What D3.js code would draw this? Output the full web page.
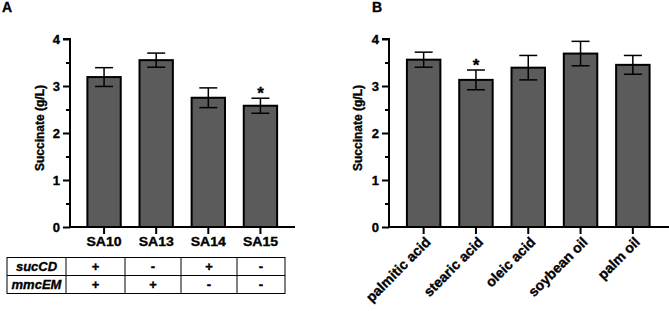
<!DOCTYPE html>
<html>
<head>
<meta charset="utf-8">
<script src="https://cdn.jsdelivr.net/npm/d3@7"></script>
<style>
  body { margin: 0; background: #fff; }
  svg text { font-family: "Liberation Sans", Arial, sans-serif; font-weight: bold; fill: #000; stroke: #000; stroke-width: 0.35px; }
</style>
</head>
<body>
<div id="chart"></div>
<script>
// panel A data
let strains = ['SA10', 'SA13', 'SA14', 'SA15'];
let strainMeans = [3.19, 3.55, 2.75, 2.58];
let strainErr = [0.2, 0.15, 0.21, 0.16];
let strainSig = [false, false, false, true];
let sucCD = ['+', '-', '+', '-'];
let mmcEM = ['+', '+', '-', '-'];

// panel B data
let substrates = ['palmitic acid', 'stearic acid', 'oleic acid', 'soybean oil', 'palm oil'];
let substrateMeans = [3.56, 3.13, 3.39, 3.69, 3.45];
let substrateErr = [0.16, 0.21, 0.26, 0.26, 0.2];
let substrateSig = [false, true, false, false, false];

let yTicks = [0, 1, 2, 3, 4];
let yMinor = [0.5, 1.5, 2.5, 3.5];

let dim = { width: 669, height: 311 };
let svg = d3.select('#chart').append('svg')
    .attr('width', dim.width)
    .attr('height', dim.height);

let scaleY = d3.scaleLinear().domain([0, 4]).range([227, 39]);

// widen horizontal text a bit, the original figure is slightly stretched
function stretch(sel, k) {
    sel.each(function () {
        let w = this.getComputedTextLength();
        d3.select(this).attr('textLength', w * k).attr('lengthAdjust', 'spacingAndGlyphs');
    });
}

function drawPanel(opts) {
    let g = svg.append('g');
    let scaleX = d3.scaleBand()
        .domain(opts.cats)
        .range(opts.xRange)
        .paddingInner(0.36)
        .paddingOuter(0.18);

    // bars
    g.selectAll('rect.bar')
        .data(opts.cats)
        .enter()
        .append('rect')
        .attr('class', 'bar')
        .attr('x', d => scaleX(d))
        .attr('width', scaleX.bandwidth())
        .attr('y', (d, i) => scaleY(opts.means[i]))
        .attr('height', (d, i) => scaleY(0) - scaleY(opts.means[i]))
        .attr('fill', '#5b5b5b')
        .attr('stroke', '#000')
        .attr('stroke-width', 2);

    // error bars
    let capW = 9;
    opts.cats.forEach((c, i) => {
        let cx = scaleX(c) + scaleX.bandwidth() / 2;
        let top = scaleY(opts.means[i] + opts.err[i]);
        let bot = scaleY(opts.means[i] - opts.err[i]);
        g.append('line').attr('x1', cx).attr('x2', cx).attr('y1', top).attr('y2', bot)
            .attr('stroke', '#000').attr('stroke-width', 1.5);
        [top, bot].forEach(yy => {
            g.append('line').attr('x1', cx - capW).attr('x2', cx + capW).attr('y1', yy).attr('y2', yy)
                .attr('stroke', '#000').attr('stroke-width', 1.5);
        });
        if (opts.sig[i]) {
            g.append('text')
                .attr('x', cx)
                .attr('y', top + 1)
                .attr('text-anchor', 'middle')
                .style('font-size', '17px')
                .text('*');
        }
    });

    // y axis
    let axisY = g.append('g')
        .attr('transform', `translate(${opts.axisX},0)`)
        .call(d3.axisLeft(scaleY).tickValues(yTicks).tickSize(7).tickPadding(3).tickFormat(d3.format('d')));
    axisY.select('.domain').attr('stroke-width', 2).attr('d', `M-0,${scaleY(0)}V${scaleY(4)}H-7`);
    axisY.selectAll('.tick line').attr('stroke-width', 2);
    axisY.selectAll('.tick text').style('font-size', '13px');
    let minor = g.append('g')
        .attr('transform', `translate(${opts.axisX},0)`)
        .call(d3.axisLeft(scaleY).tickValues(yMinor).tickSize(4).tickFormat(''));
    minor.select('.domain').remove();
    minor.selectAll('.tick line').attr('stroke-width', 2);

    g.append('text')
        .attr('transform', `translate(${opts.labelX},128) rotate(-90)`)
        .attr('text-anchor', 'middle')
        .attr('dy', '0.35em')
        .style('font-size', '12px')
        .text('Succinate (g/L)');

    // x axis
    g.append('line')
        .attr('x1', opts.axisX - 1).attr('x2', opts.xEnd)
        .attr('y1', scaleY(0)).attr('y2', scaleY(0))
        .attr('stroke', '#000').attr('stroke-width', 2);
    let axisX = g.append('g')
        .attr('transform', `translate(0,${scaleY(0)})`)
        .call(d3.axisBottom(scaleX).tickSize(7).tickSizeOuter(0));
    axisX.select('.domain').remove();
    axisX.selectAll('.tick line').attr('stroke-width', 2);
    axisX.selectAll('.tick text').style('font-size', '13px');

    g.append('text')
        .attr('x', opts.letterX)
        .attr('y', 12)
        .style('font-size', '14px')
        .text(opts.letter);

    return { g: g, scaleX: scaleX, axisX: axisX };
}

let A = drawPanel({
    cats: strains, means: strainMeans, err: strainErr, sig: strainSig,
    xRange: [78, 286.5], axisX: 70, xEnd: 295, labelX: 40, letter: 'A', letterX: 2
});
A.axisX.selectAll('.tick text').attr('y', 10).attr('dy', '0.71em');
stretch(A.axisX.selectAll('.tick text'), 1.08);

let B = drawPanel({
    cats: substrates, means: substrateMeans, err: substrateErr, sig: substrateSig,
    xRange: [397.5, 659], axisX: 389, xEnd: 669, labelX: 358, letter: 'B', letterX: 372
});
B.axisX.selectAll('.tick text')
    .style('font-size', '14px')
    .attr('text-anchor', 'end')
    .attr('y', 0).attr('dy', 0)
    .attr('transform', 'translate(8,16) rotate(-45)');

// table under panel A
let tbl = svg.append('g');
let rowY = [257.5, 275.5, 293.5];
let colX = [7, 66, 125, 181, 237, 285];
let rows = [['sucCD', sucCD], ['mmcEM', mmcEM]];
tbl.append('rect')
    .attr('x', colX[0]).attr('y', rowY[0])
    .attr('width', colX[5] - colX[0]).attr('height', rowY[2] - rowY[0])
    .attr('fill', 'none').attr('stroke', '#000').attr('stroke-width', 1);
tbl.append('line').attr('x1', colX[0]).attr('x2', colX[5]).attr('y1', rowY[1]).attr('y2', rowY[1])
    .attr('stroke', '#000').attr('stroke-width', 1);
colX.slice(1, 5).forEach(x => {
    tbl.append('line').attr('x1', x).attr('x2', x).attr('y1', rowY[0]).attr('y2', rowY[2])
        .attr('stroke', '#000').attr('stroke-width', 1);
});
rows.forEach((r, ri) => {
    let cy = (rowY[ri] + rowY[ri + 1]) / 2;
    tbl.append('text')
        .attr('x', (colX[0] + colX[1]) / 2).attr('y', cy).attr('dy', '0.35em')
        .attr('text-anchor', 'middle')
        .style('font-size', '13px').style('font-style', 'italic')
        .text(r[0]);
    r[1].forEach((v, ci) => {
        tbl.append('text')
            .attr('x', (colX[ci + 1] + colX[ci + 2]) / 2).attr('y', cy).attr('dy', '0.35em')
            .attr('text-anchor', 'middle')
            .style('font-size', '13px')
            .text(v);
    });
});
</script>
</body>
</html>
